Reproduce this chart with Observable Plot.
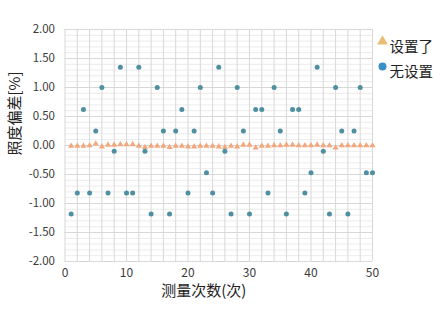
<!DOCTYPE html>
<html>
<head>
<meta charset="utf-8">
<script src="https://cdn.jsdelivr.net/npm/d3@7"></script>
<script src="https://cdn.jsdelivr.net/npm/@observablehq/plot@0.6"></script>
<style>
  body { margin: 0; background: #fff; }
  #chart svg { display: block; }
</style>
</head>
<body>
<div id="chart"></div>
<script>
// Measurement index (1..50)
const runs = d3.range(1, 51);

// Illuminance deviation [%] with the correction set
const withSetting = [
  -0.01, -0.01, -0.01, 0.00, 0.03, -0.02, 0.01, 0.01, 0.02, 0.02,
  0.02, -0.01, -0.03, -0.01, -0.01, -0.01, -0.03, -0.01, -0.01, -0.02,
  -0.02, -0.01, -0.01, -0.01, -0.02, -0.03, -0.01, -0.02, 0.01, 0.01,
  -0.04, -0.01, -0.01, 0.00, 0.00, 0.01, 0.01, 0.00, 0.00, 0.00,
  0.01, 0.00, 0.00, -0.04, 0.00, 0.00, 0.00, 0.00, 0.00, 0.00
];

// Illuminance deviation [%] without the correction
const withoutSetting = [
  -1.18, -0.82, 0.62, -0.82, 0.25, 1.00, -0.82, -0.10, 1.35, -0.82,
  -0.82, 1.35, -0.10, -1.18, 1.00, 0.25, -1.18, 0.25, 0.62, -0.82,
  0.25, 1.00, -0.47, -0.82, 1.35, -0.10, -1.18, 1.00, 0.25, -1.18,
  0.62, 0.62, -0.82, 1.00, 0.25, -1.18, 0.62, 0.62, -0.82, -0.47,
  1.35, -0.10, -1.18, 1.00, 0.25, -1.18, 0.25, 1.00, -0.47, -0.47
];

const seriesNames = ["设置了", "无设置"];
const xTicks = [0, 10, 20, 30, 40, 50];
const yTicks = d3.range(-2, 2.001, 0.5).map(v => +v.toFixed(2));
const yMinor = d3.range(-2, 2.001, 0.1).map(v => +v.toFixed(2));
const xGrid = d3.range(0, 51, 2);

const setRows = runs.map((r, i) => ({run: r, value: withSetting[i]}));
const unsetRows = runs.map((r, i) => ({run: r, value: withoutSetting[i]}));

const font = "'Noto Sans CJK SC', 'Open Sans', sans-serif";

const chart = Plot.plot({
  width: 444,
  height: 321,
  marginLeft: 64.5,
  marginRight: 72,
  marginTop: 29,
  marginBottom: 60,
  style: {fontFamily: font, fontSize: "11.5px", color: "#3a3a3a", background: "#fff"},
  x: {domain: [0, 50]},
  y: {domain: [-2, 2]},
  marks: [
    // fine horizontal grid
    Plot.ruleY(yMinor, {stroke: "#ececec", strokeWidth: 1}),
    // main horizontal grid
    Plot.ruleY(yTicks, {stroke: "#d8d8d8", strokeWidth: 1}),
    // vertical grid
    Plot.ruleX(xGrid, {stroke: "#d8d8d8", strokeWidth: 1}),
    Plot.axisX({ticks: xTicks, tickSize: 0, tickPadding: 7, label: null, fontSize: 12}),
    Plot.axisY({ticks: yTicks, tickSize: 0, tickPadding: 10, label: null, tickFormat: d => d.toFixed(2), fontSize: 11.5}),
    // axis titles
    Plot.text(["测量次数(次)"], {frameAnchor: "bottom", dx: -15, dy: 34, fontSize: 15, fill: "#222"}),
    Plot.text(["照度偏差[%]"], {frameAnchor: "left", rotate: -90, dx: -49.5, dy: 10, fontSize: 15, fill: "#222"}),
    // series
    Plot.dot(setRows, {x: "run", y: "value", symbol: "triangle", r: 2.3, fill: "#f2a77c", stroke: "none"}),
    Plot.dot(unsetRows, {x: "run", y: "value", r: 2.5, fill: "#4e8fa1", stroke: "none"}),
    // legend
    Plot.dot([seriesNames[0]], {frameAnchor: "top-right", dx: 10, dy: 12, symbol: "triangle", r: 4, fill: "#e9bd74"}),
    Plot.text([seriesNames[0]], {frameAnchor: "top-right", dx: 17, dy: 12, textAnchor: "start", fontSize: 14.5, fill: "#222"}),
    Plot.dot([seriesNames[1]], {frameAnchor: "top-right", dx: 10, dy: 37, r: 4, fill: "#3a8fc6"}),
    Plot.text([seriesNames[1]], {frameAnchor: "top-right", dx: 17, dy: 37, textAnchor: "start", fontSize: 14.5, fill: "#222"})
  ]
});

document.getElementById("chart").append(chart);
</script>
</body>
</html>
